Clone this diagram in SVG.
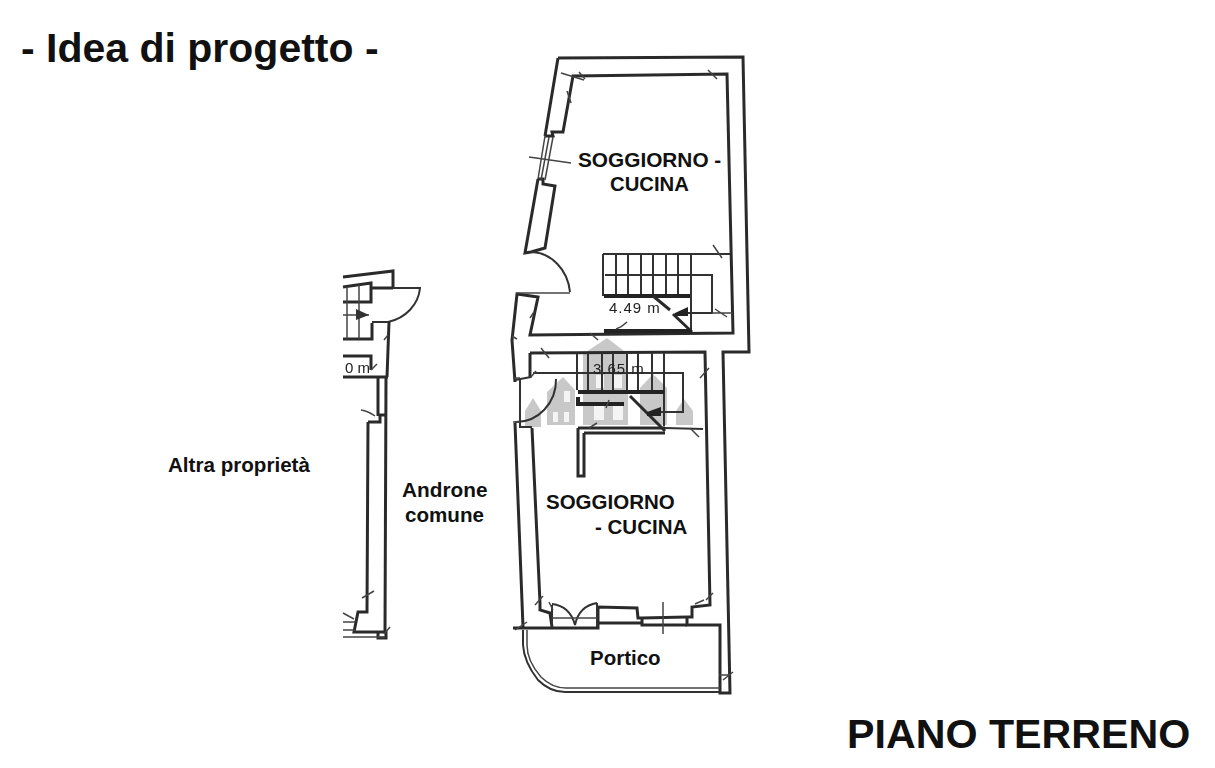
<svg xmlns="http://www.w3.org/2000/svg" width="1215" height="768" viewBox="0 0 1215 768">
<style>
text{font-family:"Liberation Sans",Arial,sans-serif;font-weight:bold;fill:#111}
.w{fill:none;stroke:#2b2b2b;stroke-width:3;stroke-linejoin:miter}
.t{fill:none;stroke:#333;stroke-width:2}
.h{fill:none;stroke:#444;stroke-width:1.5}
.k{fill:none;stroke:#222;stroke-width:4}
.house{fill:#b0b0b0;opacity:.7}
.win{fill:#fff;opacity:.8}
.plan{filter:url(#soft)}
.dim{font-weight:normal;fill:#222}
</style>
<defs><filter id="soft" x="-5%" y="-5%" width="110%" height="110%"><feGaussianBlur stdDeviation="0.45"/></filter></defs>
<rect width="1215" height="768" fill="#fff"/>
<g id="watermark" class="plan">
<path class="house" d="M583 354L607 338L628 354V425H583Z"/>
<path class="house" d="M547 392L563 377L575 390V425H547Z"/>
<path class="house" d="M525 411L533 398L541 411V427H525Z"/>
<path class="house" d="M640 388L653 374L667 388V425H640Z"/>
<path class="house" d="M676 411L684 399L693 411V425H676Z"/>
<path class="win" d="M596 375h8v13h-8zM614 375h8v13h-8zM594 402h10v18h-10zM613 402h10v18h-10zM564 391h6v11h-6zM553 412h5v10h-5zM564 412h5v10h-5z"/>
</g>
<g id="upper-unit" class="plan">
<path class="w" d="M558 58L743 57L749 352H723L730 693H720V625H687V617"/>
<path class="w" d="M558 58L545 136M538 179L525 253L531 252L545 248L555 186L543 184V179H538M545 136H553L552 132H563L573 76L727 74L733 333L530 335L538 297L517 294L512 340L515 382"/>
<path class="h" d="M545 136L538 179M553 137L545 180M549 137L541 180"/>
<path class="h" d="M529 157L571 163M561 73L584 80"/>
<path class="t" d="M531 252A40 45 0 0 1 570 292"/>
<path class="h" d="M517 293H570"/>
<g id="stairs-upper">
<path class="t" d="M603 254H730M603 254V296M616 254V294M628 254V295M641 254V295M653 254V295M666 254V296M678 254V296M691 254V332M605 275H712V313H688"/>
<path class="k" d="M604 296H690"/>
<path class="w" d="M653 296L670 310M673 314L692 332"/>
<path d="M675 313L688 307V316L675 316Z" fill="#222"/>
<path class="k" d="M604 331H692"/>
<path class="h" d="M712 313H733M616 329Q622 327 627 322M715 309L727 317M713 245L722 258M590 333L598 340M579 72L585 79M708 70L717 79M567 91L571 103M530 318L534 312M512 336L517 339"/>
</g>
<text class="dim" x="609" y="313" font-size="15" letter-spacing="1">4.49 m</text>
</g>
<g id="lower-unit" class="plan">
<path class="w" d="M530 353L705 352L710 605L692 607V617H687"/>
<path class="w" d="M530 353V378M532 428L540 603V610L550 613L552 627M515 423L523 627"/>
<path class="w" d="M513 628H598V607L637 608L638 618H642V625H687M598 623H641M642 618L687 617"/>
<path class="w" d="M578 428H665M584 433H665M578 428V476H584V433"/>
<path class="t" d="M515 380L531 377M520 378V427H532"/>
<g id="stairs-lower">
<path class="t" d="M577 353V390M588 353V390M602 353V390M613 353V390M627 353V390M638 353V390M652 353V390M664 353V426M533 373H683V412H661M665 428L703 429"/>
<path class="k" d="M578 392H664M578 397V404H624"/>
<path class="w" d="M630 396L665 431"/>
<path d="M647 412L661 407V416L647 416Z" fill="#222"/>
<path class="t" d="M556 379A40 42 0 0 1 515 422"/>
<path class="h" d="M541 348L549 358M531 377L536 371M700 378L709 368M690 428L699 437M589 428L597 423M606 408L609 400M513 378H520M513 422H520"/>
</g>
<text class="dim" x="593" y="374" font-size="15" letter-spacing="1">3.65 m</text>
<g id="french-door">
<path class="t" d="M552 604Q570 606 575 625M597 603Q579 606 575 625M552 627V605M597 627V603"/>
<path class="h" d="M552 618H597M663 602V634"/>
<path class="h" d="M535 605L543 596M695 604L704 600M706 600L713 593M553 610L549 602M515 630L527 622"/>
</g>
<g id="portico">
<path class="t" d="M523 630V645Q524 662 538 680Q550 692 565 692H720"/>
<path class="h" d="M527 630V645Q527 661 541 677Q552 688 566 688H720"/>
<path class="h" d="M719 675H730M723 680L733 672"/>
</g>
</g>
<g id="left-fragment" class="plan">
<path class="w" d="M343 277L393 271V288M343 287L371 283V302H343M371 288H393M372 323V339H343"/>
<path class="t" d="M393 288H420A42 38 0 0 1 388 322H372"/>
<path class="w" d="M389 322L387 377M343 356H371V370M343 377H388M378 377V416M386 377L385 632M368 422H380V415H386M368 422L367 612H358L354 632H386V638H378V632"/>
<path class="h" d="M347 287V339M359 285V339M343 315H369M361 410Q368 411 375 416M371 370L377 364M362 598L374 591M343 613L354 619M343 622H355M343 630H355M343 637H385M384 634L390 627M384 340L388 335"/>
<path d="M356 309L369 315L356 320Z" fill="#333"/>
<text class="dim" x="345" y="373" font-size="15">0 m</text>
</g>
<g id="labels">
<text x="21" y="62" font-size="41">- Idea di progetto -</text>
<text x="578" y="167" font-size="20.8">SOGGIORNO -</text>
<text x="610" y="191" font-size="20.3">CUCINA</text>
<text x="546" y="509" font-size="20.5">SOGGIORNO</text>
<text x="595" y="534" font-size="20.5">- CUCINA</text>
<text x="590" y="665" font-size="20.5">Portico</text>
<text x="168" y="472" font-size="20.6">Altra proprietà</text>
<text x="402" y="497" font-size="20.8">Androne</text>
<text x="405" y="522" font-size="20.6">comune</text>
<text x="847" y="748" font-size="41.2">PIANO TERRENO</text>
</g>
</svg>
